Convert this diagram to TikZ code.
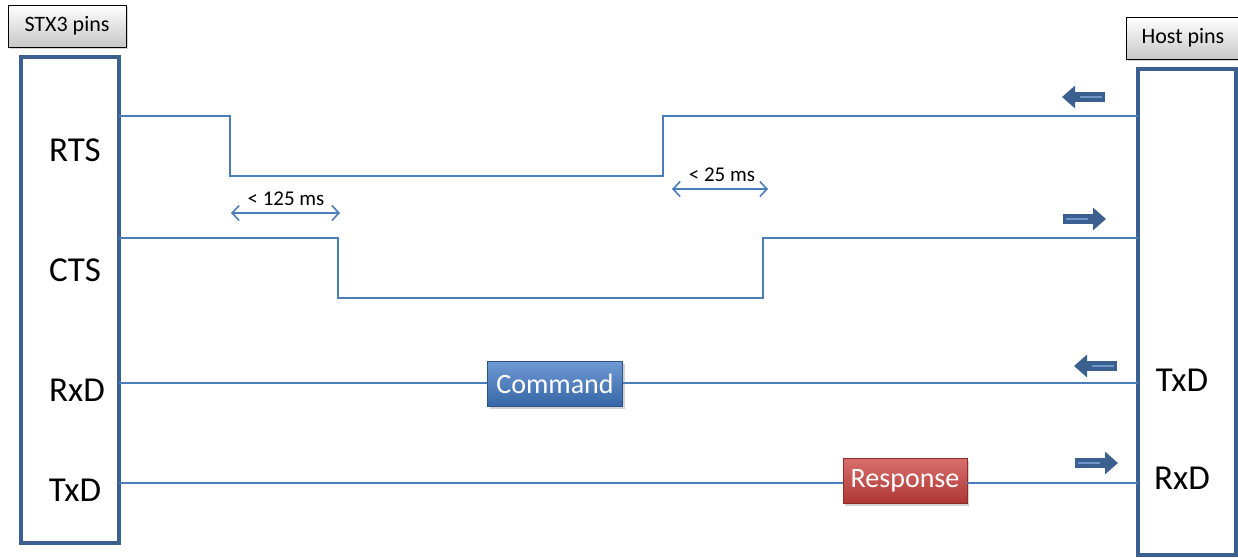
\documentclass[tikz,border=0pt]{standalone}
\usepackage{fontspec}
\setmainfont{Carlito}
\usetikzlibrary{arrows.meta,shadows}
\definecolor{pinframe}{HTML}{3B5F8E}
\definecolor{sigline}{HTML}{4A7EBB}
\begin{document}
\begin{tikzpicture}[x=1pt,y=-1pt,
  pinbox/.style={draw=pinframe,line width=3.5pt,inner sep=0,outer sep=0,minimum width=98,minimum height=486},
  header/.style={draw=black,line width=1pt,top color=white,bottom color=black!22,drop shadow={opacity=.35},
    minimum height=42,inner sep=0,font=\fontsize{22}{22}\selectfont},
  pinname/.style={font=\fontsize{35}{35}\selectfont},
  sig/.style={draw=sigline,line width=1.6pt},
  span/.style={draw=sigline,line width=1.6pt,{Straight Barb[length=7pt,width=15pt]}-{Straight Barb[length=7pt,width=15pt]}},
  spanlabel/.style={font=\fontsize{21}{21}\selectfont},
  msg/.style={draw=#1!70!black,line width=.6pt,top color=#1!75!white,bottom color=#1!85!black,drop shadow={opacity=.35},
    text=white,minimum height=45,inner sep=3pt,font=\fontsize{28}{28}\selectfont},
  flow/.style={draw=pinframe,line width=10pt,-{Triangle[length=13pt,width=22pt]}},
  flowhi/.style={draw=sigline!80!white,line width=1.2pt}]
\useasboundingbox (0,0) rectangle (1238,557);
\definecolor{cmdblue}{HTML}{3F78C4}
\definecolor{resred}{HTML}{CC3F3C}

\coordinate (rtshi) at (0,116);
\coordinate (rtslo) at (0,176);
\coordinate (ctshi) at (0,238);
\coordinate (ctslo) at (0,298);
\coordinate (rtsdown) at (230,116);
\coordinate (rtsup) at (663,176);
\coordinate (ctsdown) at (338,238);
\coordinate (ctsup) at (763,298);
\coordinate (w1a) at (231,213);
\coordinate (w1b) at (340,213);
\coordinate (w2a) at (672,189);
\coordinate (w2b) at (768,189);

\node at (70,300) [pinbox] (stx) {};
\node at (1187,312) [pinbox] (host) {};
\node at (67,26) [header,minimum width=118] (stxhead) {STX3 pins};
\node at (1183,38) [header,minimum width=114] (hosthead) {Host pins};

\node at (75,150) [pinname] (rts) {RTS};
\node at (75,270) [pinname] (cts) {CTS};
\node at (77,390) [pinname] (rxd) {RxD};
\node at (75,490) [pinname] (txd) {TxD};
\node at (1182,380) [pinname] (htxd) {TxD};
\node at (1182,478) [pinname] (hrxd) {RxD};

\draw[sig] (stx.east |- rtshi) -- (rtsdown) -- (rtsdown |- rtslo) -- (rtsup) -- (rtsup |- rtshi) -- (host.west |- rtshi);
\draw[sig] (stx.east |- ctshi) -- (ctsdown) -- (ctsdown |- ctslo) -- (ctsup) -- (ctsup |- ctshi) -- (host.west |- ctshi);

\node at (555,384) [msg=cmdblue,minimum width=135] (cmd) {Command};
\node at (905,481) [msg=resred,minimum width=124] (resp) {Response};
\draw[sig] (stx.east |- 0,383) -- (cmd.west |- 0,383);
\draw[sig] (cmd.east |- 0,383) -- (host.west |- 0,383);
\draw[sig] (stx.east |- 0,483) -- (resp.west |- 0,483);
\draw[sig] (resp.east |- 0,483) -- (host.west |- 0,483);

\draw[span] (w1a) -- (w1b);
\draw[span] (w2a) -- (w2b);
\node at (286,199) [spanlabel] (w1) {< 125 ms};
\node at (722,175) [spanlabel] (w2) {< 25 ms};

\draw[flow] (1105,97) -- (1062,97);
\draw[flow] (1063,219) -- (1106,219);
\draw[flow] (1117,366) -- (1074,366);
\draw[flow] (1075,463) -- (1118,463);
\draw[flowhi] (1102,97) -- (1080,97);
\draw[flowhi] (1066,219) -- (1088,219);
\draw[flowhi] (1114,366) -- (1092,366);
\draw[flowhi] (1078,463) -- (1100,463);
\end{tikzpicture}
\end{document}
